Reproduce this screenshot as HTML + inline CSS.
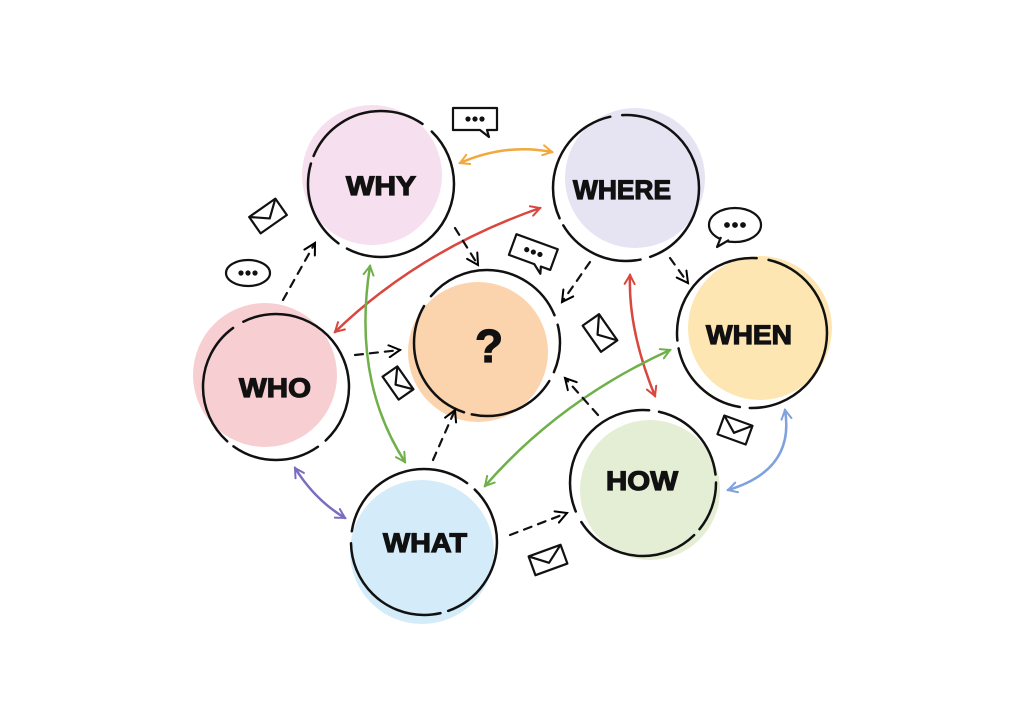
<!DOCTYPE html>
<html><head><meta charset="utf-8"><style>
html,body{margin:0;padding:0;background:#fff}
svg{display:block}
text{font-family:"Liberation Sans",sans-serif;font-weight:bold;fill:#111;stroke:#111;stroke-width:1.2}
</style></head><body>
<svg width="1024" height="726" viewBox="0 0 1024 726">
<defs>
<marker id="ah" viewBox="0 0 12 12" refX="10" refY="6" markerWidth="12" markerHeight="12" markerUnits="userSpaceOnUse" orient="auto-start-reverse">
<path d="M1,1 L10,6 L1,11" fill="none" stroke="context-stroke" stroke-width="2" stroke-linecap="round"/>
</marker>
<marker id="hb" viewBox="0 0 14 14" refX="12" refY="7" markerWidth="14" markerHeight="14" markerUnits="userSpaceOnUse" orient="auto-start-reverse">
<path d="M1,1 L12,7 L1,13" fill="none" stroke="black" stroke-width="2" stroke-linecap="round"/>
</marker>
</defs>
<circle cx="372" cy="175" r="70" fill="#f6dfee"/>
<circle cx="635" cy="178" r="70" fill="#e6e4f3"/>
<circle cx="478" cy="352" r="70" fill="#fbd3ad"/>
<circle cx="760" cy="328" r="72" fill="#fde6b2"/>
<circle cx="265" cy="375" r="72" fill="#f7cfd2"/>
<circle cx="650" cy="490" r="70" fill="#e3eed4"/>
<circle cx="422" cy="552" r="72" fill="#d4ecf9"/>
<g fill="none" stroke="#111" stroke-width="2.5" stroke-linecap="round" stroke-dasharray="150 10 90 8 130 12">
<circle cx="381" cy="184" r="73"/>
<circle cx="626" cy="188" r="73" stroke-dashoffset="60"/>
<circle cx="487" cy="343" r="73" stroke-dashoffset="120"/>
<circle cx="752" cy="333" r="75" stroke-dashoffset="30"/>
<circle cx="276" cy="387" r="73" stroke-dashoffset="90"/>
<circle cx="643" cy="483" r="73" stroke-dashoffset="200"/>
<circle cx="424" cy="542" r="73" stroke-dashoffset="160"/>
</g>
<text x="381" y="195" font-size="27" text-anchor="middle" textLength="70" lengthAdjust="spacingAndGlyphs">WHY</text>
<text x="622" y="199" font-size="27" text-anchor="middle" textLength="98" lengthAdjust="spacingAndGlyphs">WHERE</text>
<text x="489" y="362" font-size="46" text-anchor="middle">?</text>
<text x="749" y="344" font-size="27" text-anchor="middle" textLength="86" lengthAdjust="spacingAndGlyphs">WHEN</text>
<text x="275" y="397" font-size="27" text-anchor="middle" textLength="72" lengthAdjust="spacingAndGlyphs">WHO</text>
<text x="642" y="490" font-size="27" text-anchor="middle" textLength="72" lengthAdjust="spacingAndGlyphs">HOW</text>
<text x="425" y="552" font-size="27" text-anchor="middle" textLength="84" lengthAdjust="spacingAndGlyphs">WHAT</text>
<g fill="none" stroke-width="2.5" stroke-linecap="round">
<path d="M460,163 Q506,143 552,152" stroke="#f2a83a" marker-start="url(#ah)" marker-end="url(#ah)"/>
<path d="M335,332 Q420,250 540,208" stroke="#d9473f" marker-start="url(#ah)" marker-end="url(#ah)"/>
<path d="M370,266 Q352,380 405,462" stroke="#6fb04a" marker-start="url(#ah)" marker-end="url(#ah)"/>
<path d="M630,275 Q628,330 655,396" stroke="#d9473f" marker-start="url(#ah)" marker-end="url(#ah)"/>
<path d="M670,350 Q560,400 485,486" stroke="#6fb04a" marker-start="url(#ah)" marker-end="url(#ah)"/>
<path d="M295,468 Q315,500 345,518" stroke="#7a6cc0" marker-start="url(#ah)" marker-end="url(#ah)"/>
<path d="M785,410 Q795,470 728,490" stroke="#7fa2de" marker-start="url(#ah)" marker-end="url(#ah)"/>
</g>
<g fill="none" stroke="#111" stroke-width="2.2" stroke-linecap="round" stroke-dasharray="8 7" marker-end="url(#hb)">
<path d="M283,300 L315,243"/>
<path d="M455,228 L478,265"/>
<path d="M590,262 L562,302"/>
<path d="M670,258 L688,283"/>
<path d="M355,355 L400,350"/>
<path d="M433,460 L455,410"/>
<path d="M598,415 L565,378"/>
<path d="M510,535 L567,513"/>
</g>
<g fill="#fff" stroke="#111" stroke-width="2.2" stroke-linejoin="round">
<g transform="translate(475,120)"><path d="M-22,-12 H22 V10 H12 L14,17 L5,10 H-22 Z"/><circle cx="-7" cy="-1" r="1.5" fill="#111"/><circle cx="0" cy="-1" r="1.5" fill="#111"/><circle cx="7" cy="-1" r="1.5" fill="#111"/></g>
<g transform="translate(533,253) rotate(20)"><path d="M-22,-12 H22 V10 H12 L14,17 L5,10 H-22 Z"/><circle cx="-7" cy="-1" r="1.5" fill="#111"/><circle cx="0" cy="-1" r="1.5" fill="#111"/><circle cx="7" cy="-1" r="1.5" fill="#111"/></g>
<g transform="translate(248,273)"><ellipse cx="0" cy="0" rx="22" ry="13"/><circle cx="-7" cy="0" r="1.5" fill="#111"/><circle cx="0" cy="0" r="1.5" fill="#111"/><circle cx="7" cy="0" r="1.5" fill="#111"/></g>
<g transform="translate(735,225)"><ellipse cx="0" cy="0" rx="26" ry="17"/><path d="M-14,12 L-18,22 L-6,15" /><circle cx="-8" cy="0" r="1.8" fill="#111"/><circle cx="0" cy="0" r="1.8" fill="#111"/><circle cx="8" cy="0" r="1.8" fill="#111"/></g>
</g>
<g fill="#fff" stroke="#111" stroke-width="2.2" stroke-linejoin="round">
<g transform="translate(268,216) rotate(-35)"><rect x="-16" y="-10" width="32" height="20"/><path d="M-16,-10 L0,3 L16,-10" fill="none"/></g>
<g transform="translate(600,333) rotate(55)"><rect x="-16" y="-10" width="32" height="20"/><path d="M-16,-10 L0,3 L16,-10" fill="none"/></g>
<g transform="translate(398,383) rotate(55)"><rect x="-14" y="-9" width="28" height="18"/><path d="M-14,-9 L0,3 L14,-9" fill="none"/></g>
<g transform="translate(735,430) rotate(20)"><rect x="-15" y="-10" width="30" height="20"/><path d="M-15,-10 L0,3 L15,-10" fill="none"/></g>
<g transform="translate(548,560) rotate(-20)"><rect x="-17" y="-10" width="34" height="20"/><path d="M-17,-10 L0,3 L17,-10" fill="none"/></g>
</g>
</svg>
</body></html>
